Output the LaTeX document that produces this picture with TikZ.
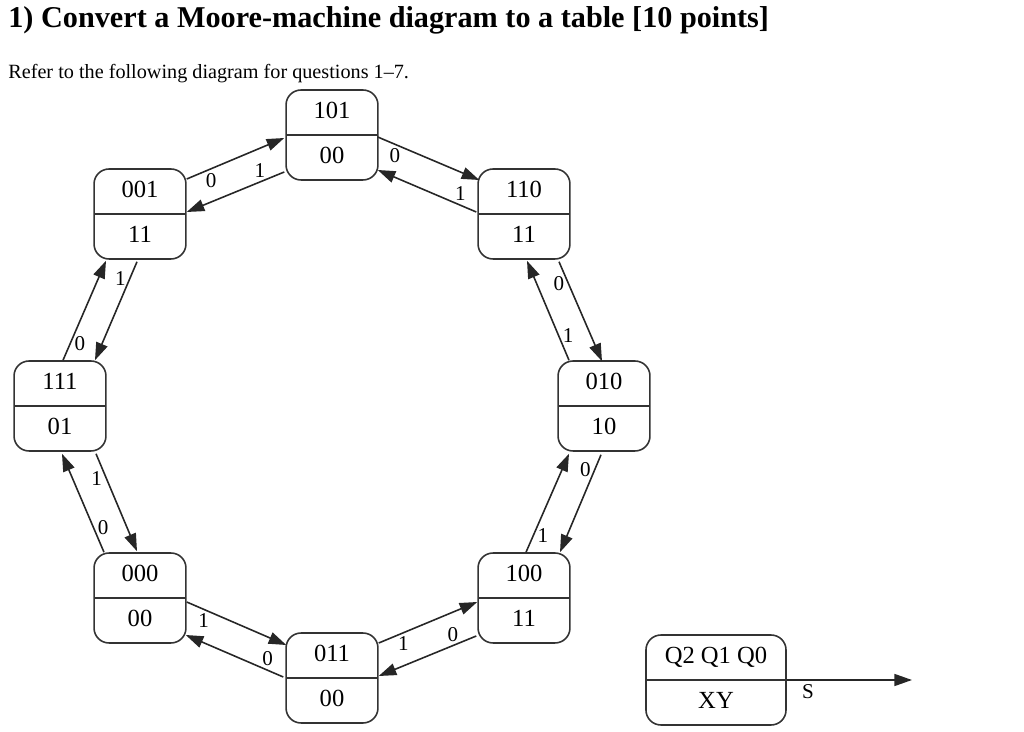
\documentclass[tikz,border=0pt]{standalone}
\usepackage{fontspec}
\setmainfont{Liberation Serif}
\usetikzlibrary{arrows.meta,shapes.multipart}

\tikzset{
  mstate/.style={draw=black!80, line width=0.9pt, rectangle split, rectangle split parts=2,
    rounded corners=8.5pt, minimum width=52.3pt, inner xsep=2pt, inner ysep=3.85pt,
    font=\fontsize{14}{17}\selectfont},
  trans/.style={draw=black!85, line width=0.9pt, -{Triangle[length=10pt,width=6.8pt]}},
  lbl/.style={font=\fontsize{12}{14}\selectfont, inner sep=2pt}
}

\begin{document}
\begin{tikzpicture}[x=0.02cm,y=-0.02cm]
  \useasboundingbox (0,0) rectangle (1024,732);
  % heading
  \node[anchor=base west,inner sep=0,font=\fontsize{17.2}{20}\selectfont\bfseries] (title) at (8,28)
    {1) Convert a Moore-machine diagram to a table [10 points]};
  \node[anchor=base west,inner sep=0,font=\fontsize{11.5}{14}\selectfont] (intro) at (8,79)
    {Refer to the following diagram for questions 1--7.};
  % states: Q2 Q1 Q0 / XY
  \foreach \n/\x/\y/\o in {101/332/135/00, 110/524/214/11, 010/604/406/10, 100/524/598/11,
      011/332/678/00, 000/140/598/00, 111/60/406/01, 001/140/214/11}
    { \node[mstate] (s\n) at (\x,\y) {\strut\n\nodepart{two}\strut\o}; }
  % transitions
  \draw[trans] ([shift={(0,-35)}]s001.east) -- ([shift={(-1,3)}]s101.west) node[lbl,pos=.25,below] {0};
  \draw[trans] ([shift={(-1,37)}]s101.west) -- ([shift={(0,-2)}]s001.east) node[lbl,pos=.25,above] {1};
  \draw[trans] ([shift={(-1,2)}]s101.east) -- ([shift={(2,-34)}]s110.west) node[lbl,pos=.17,below] {0};
  \draw[trans] ([shift={(-1,-2)}]s110.west) -- ([shift={(-1,35)}]s101.east) node[lbl,pos=.16,above] {1};
  \draw[trans] ([shift={(35,2)}]s110.south) -- ([shift={(-2,1)}]s010.north) node[lbl,pos=.22,left] {0};
  \draw[trans] ([shift={(-35,0)}]s010.north) -- ([shift={(3,1)}]s110.south) node[lbl,pos=.25,right] {1};
  \draw[trans] ([shift={(-3,3)}]s010.south) -- ([shift={(36,0)}]s100.north) node[lbl,pos=.15,left] {0};
  \draw[trans] ([shift={(2,0)}]s100.north) -- ([shift={(-35,2)}]s010.south) node[lbl,pos=.17,right] {1};
  \draw[trans] ([shift={(0,-35)}]s011.east) -- ([shift={(0,4)}]s100.west) node[lbl,pos=.25,below] {1};
  \draw[trans] ([shift={(-1,38)}]s100.west) -- ([shift={(0,-2)}]s011.east) node[lbl,pos=.24,above] {0};
  \draw[trans] ([shift={(0,4)}]s000.east) -- ([shift={(1,-33)}]s011.west) node[lbl,pos=.17,below] {1};
  \draw[trans] ([shift={(-2,-1)}]s011.west) -- ([shift={(-1,37)}]s000.east) node[lbl,pos=.16,above] {0};
  \draw[trans] ([shift={(-36,0)}]s000.north) -- ([shift={(2,2)}]s111.south) node[lbl,pos=.25,right] {0};
  \draw[trans] ([shift={(36,2)}]s111.south) -- ([shift={(-3,-1)}]s000.north) node[lbl,pos=.25,left] {1};
  \draw[trans] ([shift={(3,0)}]s111.north) -- ([shift={(-34,1)}]s001.south) node[lbl,pos=.17,right] {0};
  \draw[trans] ([shift={(-3,2)}]s001.south) -- ([shift={(35,0)}]s111.north) node[lbl,pos=.17,left] {1};
  % legend
  \node[mstate,minimum width=79.7pt] (legend) at (716,680) {\strut Q2 Q1 Q0\nodepart{two}\strut XY};
  \coordinate (sout) at (912,680);
  \draw[trans] (legend.east) -- (sout) node[lbl,pos=.17,below] {S};
\end{tikzpicture}
\end{document}
